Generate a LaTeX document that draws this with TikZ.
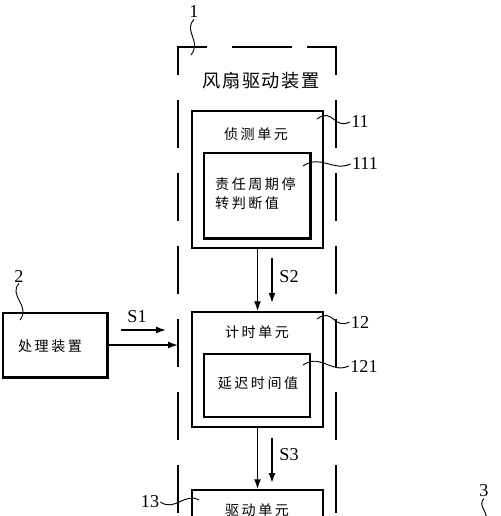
\documentclass[tikz,border=0pt]{standalone}
\usepackage{fontspec}
\setmainfont{Liberation Serif}
\newfontfamily\cjk[LetterSpace=18]{Noto Sans CJK SC}
\newfontfamily\cjktitle[LetterSpace=9]{Noto Sans CJK SC}
\usetikzlibrary{arrows.meta}
\newdimen\pxu \pxu=0.03cm

\begin{document}
\begin{tikzpicture}[
    x=0.03cm, y=-0.03cm,
    box/.style={rectangle, draw, line width=1.3pt, inner sep=0pt},
    shadowedge/.style={line width=2.4pt},
    cntext/.style={font=\cjk\fontsize{12pt}{16.2pt}\selectfont, inner sep=0pt},
    title/.style={font=\cjktitle\fontsize{15.5pt}{18pt}\selectfont, inner sep=0pt},
    numlabel/.style={font=\fontsize{15.5pt}{18pt}\selectfont, inner sep=1pt},
    arrow/.style={-{Latex[length=8.5pt,width=6pt]}, line width=1.3pt},
    leader/.style={line width=0.8pt},
    frame/.style={line width=1.5pt},
    dashframe/.style={line width=1.5pt, dash pattern=on 41pt off 21.3pt}
]
    \useasboundingbox (0,0) rectangle (500,516);
    \clip (0,0) rectangle (500,516);

    % Dashed enclosure of the fan driving device
    \draw[frame] (178,75) -- (178,47) -- (207,47);
    \draw[frame] (232,47) -- (292,47);
    \draw[frame] (307,47) -- (336,47) -- (336,75);
    \draw[dashframe] (178,100) -- (178,540);
    \draw[dashframe] (336,100) -- (336,540);
    \node[title] (ttl) at (261,81) {风扇驱动装置};

    % Units
    \node[box, minimum width=131\pxu, minimum height=137\pxu] (b11) at (257.5,179.5) {};
    \node[box, minimum width=106\pxu, minimum height=85\pxu] (b111) at (257,195.5) {};
    \draw[shadowedge] (b111.south west) -- (b111.south east) -- (b111.north east);
    \node[box, minimum width=131\pxu, minimum height=115\pxu] (b12) at (257.5,369.5) {};
    \node[box, minimum width=106\pxu, minimum height=63\pxu] (b121) at (257,385.5) {};
    \node[box, minimum width=131\pxu, minimum height=115\pxu] (b13) at (257.5,547.5) {};
    \node[box, minimum width=104\pxu, minimum height=64\pxu] (b2) at (55,345) {};
    \draw[shadowedge] (b2.south west) -- (b2.south east) -- (b2.north east);

    % Texts
    \node[cntext] (t11) at (256,134) {侦测单元};
    \node[cntext, align=left, anchor=west] (t111) at (215,193.5) {责任周期停\\转判断值};
    \node[cntext] (t12) at (257,332) {计时单元};
    \node[cntext] (t121) at (258,383) {延迟时间值};
    \node[cntext] (t13) at (257,510) {驱动单元};
    \node[cntext] (t2) at (50,346) {处理装置};

    % Arrows
    \coordinate (inlet) at (178,345);
    \draw[arrow] (b11) -- (b12);
    \draw[arrow] (b12) -- (b13);
    \draw[arrow] (b2) -- (inlet);

    % Signals
    \coordinate (s1a) at (121,330);
    \coordinate (s1b) at (166,330);
    \coordinate (s2a) at (272,258);
    \coordinate (s2b) at (272,303);
    \coordinate (s3a) at (272,438);
    \coordinate (s3b) at (272,483);
    \draw[arrow] (s1a) -- (s1b);
    \draw[arrow] (s2a) -- (s2b);
    \draw[arrow] (s3a) -- (s3b);
    \node[numlabel] (sig1) at (137,317) {S1};
    \node[numlabel] (sig2) at (289,277) {S2};
    \node[numlabel] (sig3) at (289,455) {S3};

    % Reference numerals
    \node[numlabel] (l1) at (194,12) {1};
    \node[numlabel] (l11) at (360,122) {11};
    \node[numlabel] (l111) at (365,164) {111};
    \node[numlabel] (l12) at (360,322) {12};
    \node[numlabel] (l121) at (364,366) {121};
    \node[numlabel] (l2) at (19,276) {2};
    \node[numlabel] (l13) at (150,502) {13};
    \node[numlabel] (l3) at (484,491) {3};

    \coordinate (c1) at (191,55);
    \coordinate (c11) at (317,119);
    \coordinate (c111) at (303,166);
    \coordinate (c12) at (317,319);
    \coordinate (c121) at (303,365);
    \coordinate (c2) at (20,320);
    \coordinate (c13) at (199,500);
    \coordinate (c3) at (484,522);
    \draw[leader] (l1.south) .. controls +(-11,12) and +(11,-14) .. (c1);
    \draw[leader] (c11) .. controls +(16,-12) and +(-16,8) .. (l11.west);
    \draw[leader] (c111) .. controls +(18,-12) and +(-18,8) .. (l111.west);
    \draw[leader] (c12) .. controls +(16,-12) and +(-16,8) .. (l12.west);
    \draw[leader] (c121) .. controls +(18,-12) and +(-18,8) .. (l121.west);
    \draw[leader] (l2.south) .. controls +(-11,12) and +(11,-14) .. (c2);
    \draw[leader] (l13.east) .. controls +(14,10) and +(-14,-8) .. (c13);
    \draw[leader] (l3.south) .. controls +(-8,8) and +(8,-8) .. (c3);
\end{tikzpicture}
\end{document}
